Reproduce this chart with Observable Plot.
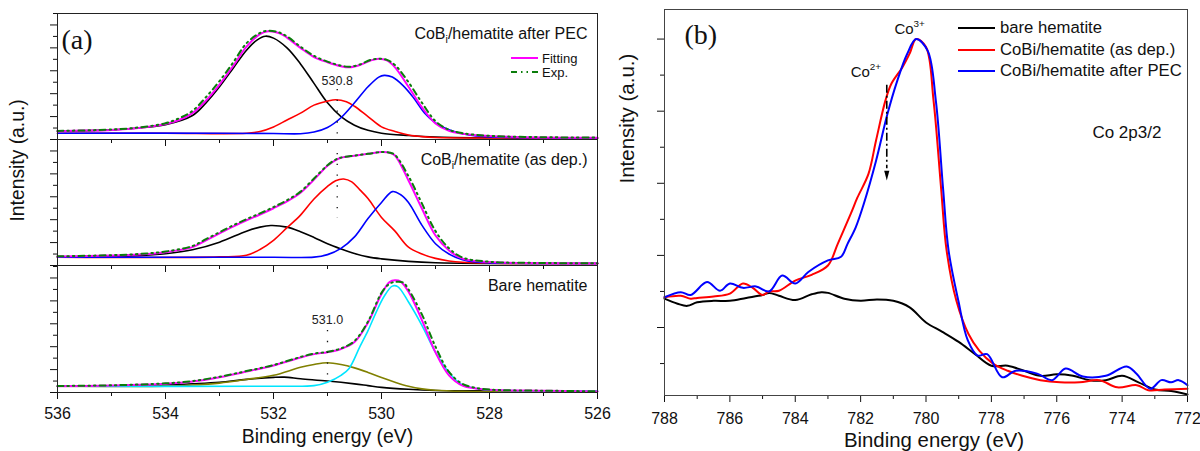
<!DOCTYPE html>
<html><head><meta charset="utf-8">
<script src="https://cdn.jsdelivr.net/npm/d3@7"></script>
<script src="https://cdn.jsdelivr.net/npm/@observablehq/plot@0.6"></script>
<style>
body{margin:0;background:#fff;font-family:"Liberation Sans",Arial,sans-serif;}
#root{position:relative;width:1200px;height:451px;overflow:hidden;background:#fff;}
.pane{position:absolute;}
.pane svg{overflow:visible;}
.lrow{position:absolute;display:flex;align-items:center;white-space:nowrap;color:#111;font-family:"Liberation Sans",Arial,sans-serif;}
.lrow svg{display:block;}
</style></head><body><div id="root"></div><script>
// ---------- Panel (a): O 1s, x = binding energy (eV), y = intensity (a.u.) ----------
// top: CoBi/hematite after PEC
const pecFit = [[536,0.73],[535.5,0.78],[535,0.84],[534.5,1.0],[534,1.35],[533.75,1.7],[533.5,2.3],[533.25,3.4],[533,4.8],[532.75,6.4],[532.5,8.1],[532.25,9.2],[532.1,9.45],[531.9,9.3],[531.75,8.9],[531.5,8.0],[531.25,7.2],[531,6.75],[530.75,6.4],[530.6,6.3],[530.4,6.5],[530.2,6.9],[530.05,7.05],[529.9,6.9],[529.75,6.3],[529.5,4.6],[529.25,2.8],[529,1.4],[528.75,0.75],[528.5,0.5],[528,0.3],[527.5,0.22],[527,0.18],[526,0.15]];
const pecExp = [[536,0.75],[535,0.87],[534.5,1.05],[534,1.42],[533.75,1.85],[533.5,2.5],[533.25,3.7],[533,5.1],[532.75,6.7],[532.5,8.4],[532.25,9.3],[532.1,9.5],[531.9,9.35],[531.75,9.0],[531.5,8.1],[531.25,7.3],[531,6.8],[530.75,6.45],[530.6,6.35],[530.4,6.55],[530.2,6.95],[530.05,7.05],[529.9,6.95],[529.75,6.5],[529.5,5.0],[529.25,3.2],[529,1.6],[528.75,0.85],[528.5,0.55],[528,0.32],[527,0.2],[526,0.17]];
const pecBlack = [[536,0.73],[535,0.84],[534.5,1.0],[534,1.3],[533.5,2.1],[533.25,3.2],[533,4.6],[532.75,6.2],[532.5,7.8],[532.3,8.7],[532.15,9.02],[532,8.85],[531.75,8.0],[531.5,6.6],[531.25,4.9],[531,3.2],[530.75,2.0],[530.5,1.25],[530.25,0.8],[530,0.55],[529.5,0.35],[529,0.22],[528,0.15],[526,0.12]];
const pecRed = [[536,0.55],[534,0.55],[532.5,0.55],[532.25,0.7],[532,1.1],[531.75,1.7],[531.5,2.3],[531.25,3.0],[531,3.35],[530.85,3.47],[530.65,3.3],[530.5,2.9],[530.25,2.0],[530,1.1],[529.75,0.7],[529.5,0.4],[529.25,0.25],[529,0.18],[528,0.13],[526,0.12]];
const pecBlue = [[536,0.55],[533,0.55],[532,0.52],[531.5,0.5],[531.25,0.65],[531,1.05],[530.75,1.9],[530.5,3.2],[530.25,4.6],[530.05,5.45],[529.95,5.6],[529.8,5.45],[529.6,4.7],[529.4,3.6],[529.2,2.3],[529,1.45],[528.75,0.85],[528.5,0.5],[528.25,0.3],[528,0.22],[527,0.15],[526,0.13]];
// middle: CoBi/hematite (as dep.)
const depFit = [[536,0.79],[535,0.87],[534.5,0.96],[534,1.16],[533.5,1.6],[533.25,2.2],[533,2.8],[532.75,3.4],[532.5,3.95],[532.25,4.45],[532,5.0],[531.75,5.6],[531.5,6.35],[531.25,7.5],[531,8.7],[530.85,9.2],[530.75,9.4],[530.5,9.58],[530.25,9.75],[530,9.9],[529.85,9.85],[529.75,9.6],[529.5,7.42],[529.25,4.95],[529,2.62],[528.75,1.31],[528.5,0.6],[528,0.3],[527,0.2],[526,0.17]];
const depExp = [[536,0.8],[535,0.9],[534.5,1.0],[534,1.22],[533.5,1.7],[533.25,2.3],[533,2.9],[532.75,3.5],[532.5,4.05],[532.25,4.55],[532,5.1],[531.75,5.7],[531.5,6.45],[531.25,7.6],[531,8.75],[530.85,9.25],[530.75,9.42],[530.5,9.6],[530.25,9.75],[530,9.9],[529.85,9.85],[529.75,9.65],[529.5,7.8],[529.25,5.4],[529,3.0],[528.75,1.5],[528.5,0.7],[528,0.33],[527,0.22],[526,0.19]];
const depBlack = [[536,0.73],[534.5,0.85],[534,1.02],[533.5,1.37],[533,2.04],[532.5,3.0],[532.25,3.35],[532.05,3.49],[531.75,3.35],[531.5,2.95],[531.25,2.45],[531,1.9],[530.75,1.45],[530.5,1.05],[530.25,0.75],[530,0.58],[529.5,0.36],[529,0.24],[528,0.18],[526,0.17]];
const depRed = [[536,0.73],[533,0.75],[532.5,0.9],[532.25,1.4],[532,2.2],[531.75,3.3],[531.5,4.4],[531.25,5.8],[531,6.9],[530.85,7.4],[530.7,7.55],[530.55,7.3],[530.4,6.6],[530.25,5.85],[530,4.2],[529.75,3.0],[529.5,1.6],[529.25,1.0],[529,0.62],[528.75,0.4],[528.5,0.28],[528,0.2],[526,0.17]];
const depBlue = [[536,0.73],[532,0.72],[531.25,0.73],[531,0.95],[530.75,1.5],[530.5,2.5],[530.25,4.1],[530,5.5],[529.8,6.45],[529.65,6.2],[529.5,5.5],[529.25,3.5],[529,1.9],[528.75,1.0],[528.5,0.5],[528.25,0.3],[528,0.22],[527,0.18],[526,0.17]];
// bottom: Bare hematite
const bareFit = [[536,0.55],[535,0.61],[534,0.76],[533.5,0.96],[533,1.34],[532.5,1.83],[532,2.36],[531.5,3.05],[531.25,3.35],[531,3.52],[530.75,3.8],[530.5,4.4],[530.25,6.1],[530,8.6],[529.85,9.65],[529.75,9.8],[529.65,9.7],[529.5,8.8],[529.25,6.3],[529,3.5],[528.75,1.5],[528.5,0.6],[528.25,0.35],[528,0.23],[527,0.15],[526,0.09]];
const bareExp = [[536,0.57],[535,0.63],[534,0.8],[533.5,1.0],[533,1.38],[532.5,1.87],[532,2.4],[531.5,3.1],[531.25,3.4],[531,3.55],[530.75,3.85],[530.5,4.5],[530.25,6.2],[530,8.7],[529.85,9.5],[529.75,9.65],[529.6,9.6],[529.5,9.0],[529.25,6.8],[529,4.0],[528.75,1.8],[528.5,0.75],[528.25,0.4],[528,0.25],[527,0.16],[526,0.1]];
const bareCyan = [[536,0.55],[532,0.55],[531.25,0.6],[531,0.9],[530.75,1.5],[530.6,2.1],[530.4,4.0],[530.25,5.4],[530.1,7.0],[529.95,8.4],[529.8,9.29],[529.7,9.25],[529.5,7.9],[529.25,5.85],[529,3.5],[528.75,1.75],[528.55,0.8],[528.25,0.35],[528,0.22],[527,0.14],[526,0.12]];
const bareOlive = [[536,0.55],[534,0.56],[533.5,0.65],[533,0.82],[532.5,1.14],[532,1.5],[531.5,2.2],[531.25,2.45],[531,2.6],[530.75,2.45],[530.5,2.15],[530.25,1.75],[530,1.3],[529.75,0.9],[529.5,0.55],[529.25,0.32],[529,0.2],[528.5,0.1],[528,0.07],[526,0.06]];
const bareBlack = [[536,0.55],[534.5,0.6],[534,0.65],[533.5,0.76],[533,0.9],[532.5,1.15],[532,1.32],[531.8,1.34],[531.5,1.2],[531,1.0],[530.5,0.75],[530.25,0.6],[530,0.45],[529.5,0.28],[529,0.18],[528,0.14],[526,0.1]];

const panelNamesA = ["CoBi/hematite after PEC", "CoBi/hematite (as dep.)", "Bare hematite"];
const peakTop = [{x: 530.82, y1: 4.37, y2: -0.35, ly: 5.15, label: "530.8"}];
const peakMid = [{x: 530.82, y1: 9.78, y2: 4.1}];
const peakBot = [{x: 531.0, y1: 5.41, y2: 1.48, ly: 6.29, label: "531.0"}];
const xMajorA = [536, 534, 532, 530, 528, 526];
const xMinorA = [535, 533, 531, 529, 527];
const legendA = [{label: "Fitting", color: "#ff00ff", dash: null}, {label: "Exp.", color: "#0a7d0a", dash: "6,4,1.5,4,1.5,4"}];

// ---------- Panel (b): Co 2p3/2 ----------
const coBare = [[788,1.40],[787.6,1.33],[787.3,1.30],[787,1.35],[786.5,1.37],[786,1.37],[785.5,1.41],[785,1.45],[784.8,1.48],[784.5,1.44],[784,1.38],[783.5,1.46],[783.2,1.49],[783,1.48],[782.5,1.40],[782,1.37],[781.5,1.39],[781,1.37],[780.5,1.28],[780,1.07],[779.5,0.94],[779,0.80],[778.5,0.63],[778,0.47],[777.5,0.47],[777,0.40],[776.5,0.33],[776,0.35],[775.5,0.33],[775,0.27],[774.5,0.27],[774,0.33],[773.5,0.24],[773,0.14],[772.5,0.12],[772,0.07]];
const coAsDep = [[788,1.42],[787.5,1.44],[787.2,1.40],[787,1.41],[786.5,1.43],[786,1.47],[785.6,1.61],[785.3,1.55],[785,1.45],[784.8,1.50],[784.5,1.51],[784,1.65],[783.5,1.73],[783,1.86],[782.7,2.16],[782.3,2.58],[782.1,2.8],[781.76,3.13],[781.53,3.59],[781.24,4.15],[781.06,4.38],[780.72,4.61],[780.5,4.8],[780.3,5.0],[780.0,4.89],[779.77,4.15],[779.54,2.94],[779.37,2.07],[779.07,1.37],[778.7,0.91],[778.37,0.68],[777.95,0.50],[777.5,0.40],[777.05,0.33],[776.5,0.27],[775.9,0.24],[775.3,0.24],[774.7,0.27],[774.15,0.17],[773.55,0.2],[773.2,0.13],[772.7,0.14],[772,0.15]];
const coPEC = [[788,1.42],[787.5,1.49],[787.2,1.45],[786.7,1.63],[786.3,1.51],[786,1.61],[785.6,1.55],[785.2,1.57],[784.8,1.50],[784.4,1.72],[784,1.61],[783.6,1.77],[783,1.93],[782.6,1.98],[782.4,2.16],[782.15,2.39],[781.9,2.72],[781.53,3.31],[781.18,3.96],[780.88,4.42],[780.58,4.79],[780.3,5.0],[779.95,4.84],[779.7,4.15],[779.48,2.94],[779.31,2.07],[779.01,1.37],[778.72,0.82],[778.42,0.61],[778.13,0.63],[777.67,0.31],[777.26,0.40],[776.6,0.36],[776.14,0.27],[775.73,0.43],[775.2,0.32],[774.5,0.33],[773.86,0.46],[773.56,0.36],[773.14,0.15],[772.8,0.27],[772.5,0.24],[772.27,0.27],[772,0.20]];
const legendB = [{label: "bare hematite", color: "#000"}, {label: "CoBi/hematite (as dep.)", color: "#ff0000"}, {label: "CoBi/hematite after PEC", color: "#0000ff"}];
const coLabels = [{x: 780.5, y: 5.14, label: "Co3+"}, {x: 781.84, y: 4.54, label: "Co2+"}];
const coArrow = [{x: 781.2, y1: 4.36, y2: 3.2, head: 3.12}];
const noteB = [{x: 774.91, y: 3.71, label: "Co 2p3/2"}];
const xMajorB = [788, 786, 784, 782, 780, 778, 776, 774, 772];
const xMinorB = [787, 785, 783, 781, 779, 777, 775, 773];
const yMajorB = [1, 2, 3, 4, 5];
const yMinorB = [0.5, 1.5, 2.5, 3.5, 4.5];

// ---------- drawing ----------
const root = document.getElementById("root");
const SANS = "Liberation Sans, Arial, sans-serif";
const blank = () => "";
const ln = (data, stroke, extra = {}) => Plot.line(data, {x: d => d[0], y: d => d[1], stroke, strokeWidth: 1.6, curve: "catmull-rom", ...extra});

function place(el, left, top) {
  const d = document.createElement("div");
  d.className = "pane"; d.style.left = left + "px"; d.style.top = top + "px";
  d.appendChild(el); root.appendChild(d); return d;
}

function richText(svg) {
  d3.select(svg).selectAll("text").each(function() {
    const s = this.textContent;
    const fs = parseFloat(getComputedStyle(this).fontSize) || 15;
    let m;
    if (s.startsWith("CoBi/hematite") && this.closest(".sub-i")) {
      const sel = d3.select(this); sel.text("");
      sel.append("tspan").text("CoB");
      sel.append("tspan").attr("font-size", fs * 0.66).attr("dy", fs * 0.28).text("i");
      sel.append("tspan").attr("dy", -fs * 0.28).text(s.slice(4));
    } else if ((m = s.match(/^Co(\d\+)$/))) {
      const sel = d3.select(this); sel.text("");
      sel.append("tspan").text("Co");
      sel.append("tspan").attr("font-size", fs * 0.66).attr("dy", -fs * 0.45).text(m[1]);
    }
  });
}

function panelA({series, name, height, marginTop, marginBottom, yMax, showLabels, extra}) {
  const marks = [
    Plot.axisY(d3.range(0, 12, 2), {tickSize: 7, tickFormat: blank, label: null}),
    Plot.axisY(d3.range(1, 12, 2), {tickSize: 4, tickFormat: blank, label: null}),
    Plot.axisX(xMajorA, {tickSize: 7, tickPadding: 8, fontSize: 16, tickFormat: showLabels ? d => d : blank, label: null}),
    Plot.axisX(xMinorA, {tickSize: 4, tickFormat: blank, label: null}),
    ...series,
    Plot.frame({stroke: "#222"}),
    Plot.text([name], {text: d => d, frameAnchor: "top-right", dx: -10, dy: 20, lineAnchor: "middle", fontSize: 16, fill: "#111"}),
    ...extra
  ];
  const p = Plot.plot({
    width: 600, height, marginLeft: 57, marginRight: 3, marginTop, marginBottom,
    x: {domain: [536, 526]}, y: {domain: [0, yMax]},
    style: {overflow: "visible", color: "#111", fontFamily: SANS, fontSize: "15px", background: "transparent"},
    marks
  });
  p.classList.add("sub-i");
  return p;
}

const fitMark = d => ln(d, "#ff00ff", {strokeWidth: 2});
const expMark = d => ln(d, "#0a7d0a", {strokeWidth: 2, strokeDasharray: "6,4,1.5,4,1.5,4"});
const dotRule = (d) => Plot.ruleX(d, {x: "x", y1: "y1", y2: "y2", stroke: "#111", strokeWidth: 1.3, strokeDasharray: "1.3,9.5"});

const pTop = panelA({
  name: panelNamesA[0], height: 149, marginTop: 13, marginBottom: 10, yMax: 11, showLabels: false,
  series: [ln(pecBlack, "#000"), ln(pecRed, "#ff0000"), ln(pecBlue, "#0000ff"), fitMark(pecFit), expMark(pecExp)],
  extra: [
    dotRule(peakTop),
    Plot.text(peakTop, {x: "x", y: "ly", text: "label", fontSize: 12.5, fill: "#222"}),
    Plot.text(["(a)"], {text: d => d, frameAnchor: "top-left", dx: 4, dy: 27, lineAnchor: "middle", textAnchor: "start", fontSize: 28, fontFamily: "Liberation Serif, Times New Roman, serif", fill: "#111"})
  ]
});
const pMid = panelA({
  name: panelNamesA[1], height: 146, marginTop: 10, marginBottom: 10, yMax: 11, showLabels: false,
  series: [ln(depBlack, "#000"), ln(depRed, "#ff0000"), ln(depBlue, "#0000ff"), fitMark(depFit), expMark(depExp)],
  extra: [
    dotRule(peakMid),
    Plot.text(["Intensity (a.u.)"], {text: d => d, frameAnchor: "left", rotate: -90, dx: -40, dy: 19, fontSize: 19.3, fill: "#111"})
  ]
});
const pBot = panelA({
  name: panelNamesA[2], height: 196, marginTop: 10, marginBottom: 59, yMax: 11.09, showLabels: true,
  series: [ln(bareBlack, "#000"), ln(bareOlive, "#808000"), ln(bareCyan, "#00e5ff"), fitMark(bareFit), expMark(bareExp)],
  extra: [
    dotRule(peakBot),
    Plot.text(peakBot, {x: "x", y: "ly", text: "label", fontSize: 12.5, fill: "#222"}),
    Plot.text(["Binding energy (eV)"], {text: d => d, frameAnchor: "bottom", dy: 44, lineAnchor: "middle", fontSize: 19.4, fill: "#111"})
  ]
});
place(pTop, 0, 0); place(pMid, 0, 129); place(pBot, 0, 255);

const narrowTri = {draw(c, size) { const h = Math.sqrt(size); c.moveTo(0, h * 0.6); c.lineTo(-h * 0.26, -h * 0.4); c.lineTo(h * 0.26, -h * 0.4); c.closePath(); }};

const pB = Plot.plot({
  width: 600, height: 451, marginLeft: 64, marginRight: 13, marginTop: 9, marginBottom: 56,
  x: {domain: [788, 772]}, y: {domain: [0.057, 5.41]},
  style: {overflow: "visible", color: "#111", fontFamily: SANS, fontSize: "15px", background: "transparent"},
  marks: [
    Plot.axisY(yMajorB, {tickSize: 7, tickFormat: blank, label: null}),
    Plot.axisY(yMinorB, {tickSize: 4, tickFormat: blank, label: null}),
    Plot.axisX(xMajorB, {tickSize: 7, tickPadding: 10, fontSize: 16, tickFormat: d => d, label: null}),
    Plot.axisX(xMinorB, {tickSize: 4, tickFormat: blank, label: null}),
    ln(coBare, "#000", {strokeWidth: 2}),
    ln(coAsDep, "#ff0000", {strokeWidth: 2}),
    ln(coPEC, "#0000ff", {strokeWidth: 2}),
    Plot.frame({stroke: "#444"}),
    Plot.ruleX(coArrow, {x: "x", y1: "y1", y2: "y2", stroke: "#000", strokeWidth: 1.6, strokeDasharray: "8,3,2,3"}),
    Plot.dot(coArrow, {x: "x", y: "head", symbol: narrowTri, r: 5.6, fill: "#000", stroke: "none"}),
    Plot.text(coLabels, {x: "x", y: "y", text: "label", fontSize: 15, fill: "#111"}),
    Plot.text(noteB, {x: "x", y: "y", text: "label", fontSize: 17, textAnchor: "start", fill: "#111"}),
    Plot.text(["(b)"], {text: d => d, frameAnchor: "top-left", dx: 20, dy: 26, lineAnchor: "middle", textAnchor: "start", fontSize: 28, fontFamily: "Liberation Serif, Times New Roman, serif", fill: "#111"}),
    Plot.text(["Intensity (a.u.)"], {text: d => d, frameAnchor: "left", rotate: -90, dx: -37, dy: -19, fontSize: 20.5, fill: "#111"}),
    Plot.text(["Binding energy (eV)"], {text: d => d, frameAnchor: "bottom", dx: 8, dy: 44.5, lineAnchor: "middle", fontSize: 20.4, fill: "#111"})
  ]
});
place(pB, 600, 0);

[pTop, pMid, pBot, pB].forEach(richText);

// ---------- legends ----------
function legend(items, {left, tops, lineW, gap, fontSize, sw}) {
  items.forEach((it, i) => {
    const row = document.createElement("div");
    row.className = "lrow";
    row.style.left = left + "px"; row.style.top = (tops[i] - 10) + "px"; row.style.height = "20px";
    row.style.fontSize = fontSize + "px";
    const s = d3.create("svg").attr("width", lineW).attr("height", 20);
    s.append("line").attr("x1", 0).attr("x2", lineW).attr("y1", 10).attr("y2", 10)
      .attr("stroke", it.color).attr("stroke-width", sw).attr("stroke-dasharray", it.dash || null);
    row.appendChild(s.node());
    const t = document.createElement("span"); t.textContent = it.label; t.style.marginLeft = gap + "px";
    row.appendChild(t);
    root.appendChild(row);
  });
}
legend(legendA, {left: 511, tops: [58, 72], lineW: 27, gap: 4, fontSize: 13, sw: 2});
legend(legendB, {left: 958, tops: [28, 50, 71], lineW: 37, gap: 5, fontSize: 16.7, sw: 2.2});
</script></body></html>
